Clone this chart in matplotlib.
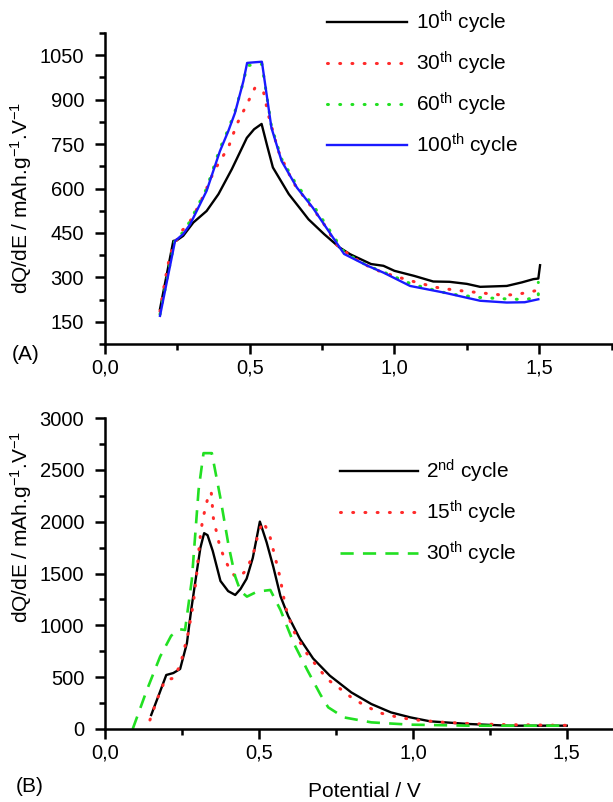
import matplotlib
matplotlib.use("Agg")
import matplotlib.pyplot as plt
from matplotlib.ticker import MultipleLocator, FuncFormatter

plt.rcParams['font.family'] = ['Liberation Sans', 'DejaVu Sans']
plt.rcParams['mathtext.fontset'] = 'custom'
plt.rcParams['mathtext.rm'] = 'Liberation Sans'
plt.rcParams['mathtext.it'] = 'Liberation Sans'
plt.rcParams['font.size'] = 14

# ---------------- Panel A data ----------------
a10_x = [0.19, 0.236, 0.248, 0.27, 0.305, 0.351, 0.392, 0.438, 0.49, 0.515, 0.541, 0.56, 0.58, 0.635, 0.676,
         0.703, 0.757, 0.81, 0.847, 0.919, 0.962, 1.0, 1.068, 1.134, 1.19, 1.25, 1.296, 1.388, 1.44, 1.48,
         1.497, 1.503]
a10_y = [193, 423, 425, 440, 485, 524, 581, 665, 771, 800, 818, 745, 671, 581, 530,
         496, 446, 401, 378, 345, 339, 322, 305, 286, 285, 278, 268, 271, 283, 294,
         296, 341]

a30_x = [0.19, 0.207, 0.225, 0.259, 0.288, 0.317, 0.34, 0.374, 0.397, 0.426, 0.455, 0.49, 0.518, 0.547,
         0.564, 0.599, 0.65, 0.70, 0.75, 0.80, 0.85, 0.9, 0.95, 1.008, 1.08, 1.146, 1.2, 1.285, 1.365,
         1.413, 1.46, 1.497, 1.5]
a30_y = [185, 288, 378, 451, 479, 530, 575, 653, 693, 738, 816, 884, 940, 929,
         850, 726, 620, 555, 490, 410, 372, 342, 320, 302, 282, 266, 258, 249, 241,
         241, 249, 257, 265]

a60_x = [0.19, 0.242, 0.27, 0.294, 0.351, 0.397, 0.426, 0.449, 0.478, 0.491, 0.52, 0.542, 0.575, 0.61,
         0.663, 0.718, 0.772, 0.826, 0.905, 0.962, 1.06, 1.19, 1.296, 1.41, 1.457, 1.497, 1.497]
a60_y = [175, 430, 452, 490, 600, 735, 800, 860, 960, 1015, 1018, 1020, 810, 700,
         610, 545, 465, 385, 340, 318, 277, 244, 232, 226, 226, 234, 283]

a100_x = [0.19, 0.242, 0.27, 0.294, 0.351, 0.397, 0.426, 0.449, 0.478, 0.491, 0.515, 0.542, 0.575, 0.61,
          0.663, 0.718, 0.772, 0.826, 0.905, 0.962, 1.054, 1.169, 1.296, 1.388, 1.45, 1.497]
a100_y = [170, 423, 446, 479, 592, 726, 794, 855, 962, 1024, 1026, 1028, 805, 693,
          603, 535, 457, 379, 340, 316, 271, 249, 221, 215, 216, 226]

# ---------------- Panel B data ----------------
b2_x = [0.15, 0.175, 0.199, 0.222, 0.244, 0.266, 0.28, 0.299, 0.31, 0.322, 0.333, 0.35, 0.375, 0.4, 0.423,
        0.44, 0.46, 0.48, 0.503, 0.525, 0.547, 0.57, 0.595, 0.633, 0.676, 0.73, 0.80, 0.865, 0.929, 0.992,
        1.056, 1.183, 1.31, 1.5]
b2_y = [135, 330, 521, 540, 579, 827, 1150, 1535, 1750, 1889, 1870, 1717, 1428, 1330, 1293,
        1350, 1450, 1650, 2001, 1800, 1560, 1280, 1090, 870, 680, 515, 353, 241, 160, 112,
        74, 48, 32, 32]

b15_x = [0.146, 0.17, 0.195, 0.222, 0.245, 0.27, 0.287, 0.298, 0.308, 0.317, 0.335, 0.345, 0.352, 0.363,
         0.373, 0.39, 0.406, 0.423, 0.438, 0.46, 0.482, 0.498, 0.513, 0.533, 0.552, 0.568, 0.586, 0.611,
         0.65, 0.698, 0.725, 0.75, 0.80, 0.85, 0.9, 0.95, 1.0, 1.1, 1.2, 1.3, 1.5]
b15_y = [87, 290, 473, 489, 620, 923, 1213, 1503, 1824, 2017, 2242, 2288, 2034, 1889,
         1760, 1631, 1535, 1470, 1470, 1535, 1696, 1889, 2001, 1889, 1663, 1470, 1180, 955,
         750, 569, 473, 420, 305, 215, 150, 115, 90, 65, 50, 42, 35]

b30_x = [0.09, 0.136, 0.179, 0.215, 0.244, 0.26, 0.282, 0.304, 0.32, 0.347, 0.374, 0.402, 0.423, 0.44,
         0.461, 0.494, 0.537, 0.57, 0.613, 0.657, 0.70, 0.725, 0.776, 0.865, 0.99, 1.18, 1.5]
b30_y = [0, 376, 698, 900, 962, 955, 1438, 2307, 2661, 2661, 2242, 1760, 1470, 1330,
         1277, 1325, 1341, 1148, 827, 569, 330, 209, 112, 64, 42, 32, 32]

labels_a = ["10$^{\\rm th}$ cycle", "30$^{\\rm th}$ cycle", "60$^{\\rm th}$ cycle", "100$^{\\rm th}$ cycle"]
labels_b = ["2$^{\\rm nd}$ cycle", "15$^{\\rm th}$ cycle", "30$^{\\rm th}$ cycle"]
ylabel = "dQ/dE / mAh.g$^{-1}$.V$^{-1}$"

RED = '#ff2a2a'
GREEN = '#22e022'
BLUE = '#1a1aff'
dot = (0, (0.3, 3.7))
FS_TICK = 14.5
FS_TEXT = 15

W, H = 613, 802
fig = plt.figure(figsize=(W / 100, H / 100), dpi=100)

def px_axes(l, t, r, b):
    return fig.add_axes([l / W, 1 - b / H, (r - l) / W, (b - t) / H])

axA = px_axes(105, 33, 613, 344)
axB = px_axes(105, 418, 613, 729)

comma = FuncFormatter(lambda v, p: f"{v:.1f}".replace('.', ','))

for ax in (axA, axB):
    for s in ('top', 'right'):
        ax.spines[s].set_visible(False)
    for s in ('left', 'bottom'):
        ax.spines[s].set_linewidth(1.8)
    ax.tick_params(which='major', direction='out', length=7, width=1.8, labelsize=FS_TICK)
    ax.tick_params(which='minor', direction='out', length=4.5, width=1.8)
    ax.tick_params(axis='y', which='major', pad=8)
    ax.tick_params(axis='x', which='major', pad=3.5)
    ax.xaxis.set_major_locator(MultipleLocator(0.5))
    ax.xaxis.set_minor_locator(MultipleLocator(0.25))
    ax.xaxis.set_major_formatter(comma)

# Panel A
axA.plot(a10_x, a10_y, color='black', lw=1.7, label=labels_a[0])
axA.plot(a30_x, a30_y, color=RED, lw=2.2, linestyle=dot, dash_capstyle='round', label=labels_a[1])
axA.plot(a60_x, a60_y, color=GREEN, lw=2.2, linestyle=dot, dash_capstyle='round', label=labels_a[2])
axA.plot(a100_x, a100_y, color=BLUE, lw=1.7, label=labels_a[3])
axA.set_xlim(0, 1.755)
axA.set_ylim(75, 1125)
axA.yaxis.set_minor_locator(MultipleLocator(75))
axA.set_yticks([150, 300, 450, 600, 750, 900, 1050])
axA.set_ylabel(ylabel, fontsize=FS_TEXT)
axA.yaxis.set_label_coords(-0.14, 0.47)
axA.legend(loc='upper left', bbox_to_anchor=(327 / W, 1 - 9 / H), bbox_transform=fig.transFigure,
           frameon=False, handlelength=3.85, handletextpad=0.4, labelspacing=0.66, borderpad=0,
           borderaxespad=0, fontsize=FS_TEXT)

# Panel B
axB.plot(b2_x, b2_y, color='black', lw=1.7, label=labels_b[0])
axB.plot(b15_x, b15_y, color=RED, lw=2.2, linestyle=dot, dash_capstyle='round', label=labels_b[1])
axB.plot(b30_x, b30_y, color=GREEN, lw=1.9, linestyle=(0, (5, 3.5)), label=labels_b[2])
axB.set_xlim(0, 1.65)
axB.set_ylim(0, 3000)
axB.yaxis.set_major_locator(MultipleLocator(500))
axB.yaxis.set_minor_locator(MultipleLocator(250))
axB.set_ylabel(ylabel, fontsize=FS_TEXT)
axB.yaxis.set_label_coords(-0.14, 0.65)
axB.set_xlabel("Potential / V", fontsize=FS_TEXT)
axB.xaxis.set_label_coords(0.51, -0.172)
axB.legend(loc='upper left', bbox_to_anchor=(340 / W, 1 - 458 / H), bbox_transform=fig.transFigure,
           frameon=False, handlelength=3.75, handletextpad=0.4, labelspacing=0.66, borderpad=0,
           borderaxespad=0, fontsize=FS_TEXT)

fig.text(12 / W, 1 - 355 / H, "(A)", fontsize=FS_TEXT, va='center', ha='left')
fig.text(16 / W, 1 - 786 / H, "(B)", fontsize=FS_TEXT, va='center', ha='left')

fig.savefig("out.png", dpi=100)
